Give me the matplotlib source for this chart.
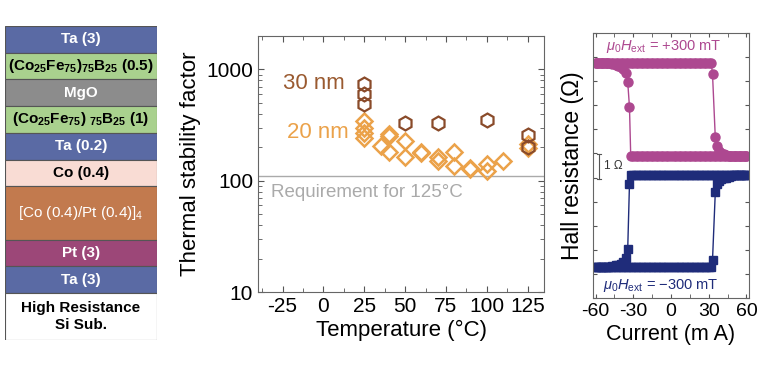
import numpy as np
import matplotlib.pyplot as plt
from matplotlib.ticker import MultipleLocator, NullFormatter

plt.rcParams["font.family"] = ["Liberation Sans", "DejaVu Sans"]
plt.rcParams["mathtext.fontset"] = "custom"
plt.rcParams["mathtext.rm"] = "Liberation Sans"
plt.rcParams["mathtext.it"] = "Liberation Sans:italic"
plt.rcParams["mathtext.bf"] = "Liberation Sans:bold"
plt.rcParams["axes.unicode_minus"] = False

# ---- layer stack (top to bottom) ----
layer_names = [r"Ta (3)", r"$\mathbf{(Co_{25}Fe_{75})_{75}B_{25}}$ $\mathbf{(0.5)}$", "MgO",
               r"$\mathbf{(Co_{25}Fe_{75})\ _{75}B_{25}}$ $\mathbf{(1)}$", "Ta (0.2)", "Co (0.4)",
               r"[Co (0.4)/Pt (0.4)]$_4$", "Pt (3)", "Ta (3)", "High Resistance\nSi Sub."]
layer_rows = [1, 1, 1, 1, 1, 1, 2, 1, 1, 1.76]
layer_colors = ["#5a6aa4", "#a9d18e", "#8c8c8c", "#a9d18e", "#5a6aa4", "#f9dcd4",
                "#c27a4e", "#9c4778", "#5a6aa4", "#ffffff"]
layer_text = ["w", "k", "w", "k", "w", "k", "w", "w", "w", "k"]

# ---- thermal stability ----
T30 = [25, 25, 25, 50, 70, 100, 125, 125]
D30 = [748, 608, 494, 333, 333, 355, 259, 200]
T20 = [25, 25, 25, 25, 35, 40, 40, 40, 50, 50, 60, 60, 70, 70, 80, 80, 90, 90,
       100, 100, 110, 125, 125]
D20 = [347, 300, 270, 244, 207, 265, 255, 183, 229, 164, 183, 178, 164, 151,
       183, 137, 131, 127, 142, 123, 151, 215, 195]
requirement = 110

# ---- hall resistance loops (Ohm, offset) ----
plateau_I_lo = np.arange(-60, 33, 2)
plateau_I_hi = np.arange(50, 61, 2)
mag_fwd_I = list(plateau_I_lo) + [33, 35.2, 36.8, 38, 40, 42, 44, 46, 48] + list(plateau_I_hi)
mag_fwd_R = [9.75] * len(plateau_I_lo) + [9.29, 6.67, 6.29, 6.12, 6.02, 5.96, 5.93, 5.91, 5.9] + [5.875] * len(plateau_I_hi)
mag_bwd_I = list(-plateau_I_lo) + [-33, -34.4, -36, -38, -40, -42, -44, -47] + list(-plateau_I_hi)
mag_bwd_R = [5.875] * len(plateau_I_lo) + [7.92, 8.96, 9.33, 9.5, 9.58, 9.64, 9.68, 9.71] + [9.75] * len(plateau_I_hi)

blu_fwd_I = list(plateau_I_lo) + [33, 35.2, 36.8, 38, 40, 42, 44, 46, 48] + list(plateau_I_hi)
blu_fwd_R = [1.3] * len(plateau_I_lo) + [1.58, 4.38, 4.75, 4.85, 4.92, 4.97, 5.0, 5.03, 5.05] + [5.1] * len(plateau_I_hi)
blu_bwd_I = list(-plateau_I_lo) + [-33, -34.4, -36, -38, -40, -42, -44, -47] + list(-plateau_I_hi)
blu_bwd_R = [5.1] * len(plateau_I_lo) + [4.75, 2.04, 1.67, 1.5, 1.42, 1.38, 1.35, 1.32] + [1.3] * len(plateau_I_hi)

W, H = 768, 372
fig = plt.figure(figsize=(W / 100, H / 100), dpi=100)

# ---------- left: stack ----------
ax0 = fig.add_axes([5 / W, (H - 340) / H, 152 / W, 314 / H])
tops = np.cumsum([0] + layer_rows[:-1])
ax0.barh(tops + np.array(layer_rows) / 2, 1, height=layer_rows, left=0,
         color=layer_colors, edgecolor="#555555", linewidth=0.8)
for y0, h, name, tc in zip(tops, layer_rows, layer_names, layer_text):
    weight = "normal" if name.startswith("[") else "bold"
    ax0.text(0.5, y0 + h / 2, name, ha="center", va="center", color=tc,
             fontsize=11, fontweight=weight, linespacing=1.3)
ax0.set_xlim(0, 1)
ax0.set_ylim(sum(layer_rows), 0)
ax0.axis("off")

# ---------- middle: thermal stability ----------
ax1 = fig.add_axes([258 / W, (H - 292) / H, 286 / W, 256 / H])
ax1.axhline(requirement, color="#aaaaaa", lw=1)
ax1.plot(T20, D20, ls="none", marker="D", ms=8, mfc="none", mec="#eba24a", mew=1.8)
ax1.plot(T30, D30, ls="none", marker="h", ms=10, mfc="none", mec="#8a4b2a", mew=1.6)
ax1.set_yscale("log")
ax1.set_ylim(10, 2000)
ax1.set_xlim(-40, 135)
ax1.set_xticks([-25, 0, 25, 50, 75, 100, 125])
ax1.xaxis.set_minor_locator(MultipleLocator(12.5))
ax1.set_yticks([10, 100, 1000])
ax1.set_yticklabels(["10", "100", "1000"])
ax1.yaxis.set_minor_formatter(NullFormatter())
ax1.tick_params(which="both", direction="in", top=True, right=True, labelsize=15,
                color="#555555", length=4)
ax1.tick_params(which="minor", length=3)
for s in ax1.spines.values():
    s.set_color("#666666")
ax1.set_xlabel("Temperature (°C)", fontsize=16, labelpad=3)
ax1.set_ylabel("Thermal stability factor", fontsize=16, labelpad=4)
ax1.text(-32, 78, "Requirement for 125°C", color="#aaaaaa", fontsize=13.5, va="center")
ax1.text(-25, 748, "30 nm", color="#9a5a30", fontsize=16, va="center")
ax1.text(-22, 271, "20 nm", color="#eba24a", fontsize=16, va="center")

# ---------- right: hall resistance ----------
ax2 = fig.add_axes([593 / W, (H - 298) / H, 156 / W, 265 / H])
mag = "#ad4890"
blu = "#1f2c7a"
ax2.plot(mag_fwd_I, mag_fwd_R, color=mag, lw=1, marker="o", ms=6.5, mec=mag)
ax2.plot(mag_bwd_I, mag_bwd_R, color=mag, lw=1, marker="o", ms=6.5, mec=mag)
ax2.plot(blu_fwd_I, blu_fwd_R, color=blu, lw=1, marker="s", ms=5.5, mec=blu)
ax2.plot(blu_bwd_I, blu_bwd_R, color=blu, lw=1, marker="s", ms=5.5, mec=blu)
ax2.set_xlim(-62, 62)
ax2.set_ylim(0, 11)
ax2.set_xticks([-60, -30, 0, 30, 60])
ax2.xaxis.set_minor_locator(MultipleLocator(15))
ax2.yaxis.set_major_locator(MultipleLocator(1))
ax2.set_yticklabels([])
ax2.tick_params(which="both", direction="in", top=True, right=True, labelsize=14,
                color="#555555", length=3)
for s in ax2.spines.values():
    s.set_color("#666666")
ax2.set_xlabel("Current (m A)", fontsize=15.5, labelpad=3)
ax2.set_ylabel("Hall resistance (Ω)", fontsize=16.5, labelpad=3)
ax2.text(-6, 10.45, r"$\mu_0H_{\rm ext}$ = +300 mT", color=mag, fontsize=10.5,
         ha="center", va="center")
ax2.text(-8, 0.5, r"$\mu_0H_{\rm ext}$ = $-$300 mT", color=blu, fontsize=10.5,
         ha="center", va="center")
ax2.plot([-57, -57], [4.96, 5.96], color="#555555", lw=0.8)
ax2.plot([-58.5, -55.5], [4.96, 4.96], color="#555555", lw=0.8)
ax2.plot([-58.5, -55.5], [5.96, 5.96], color="#555555", lw=0.8)
ax2.text(-53, 5.46, "1 Ω", color="#333333", fontsize=8.5, va="center")

fig.savefig("out.png", dpi=100)
